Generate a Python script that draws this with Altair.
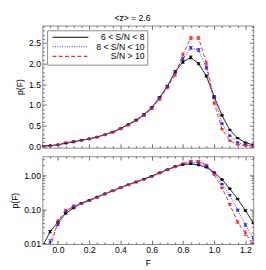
import altair as alt
import pandas as pd

FONT = "Liberation Sans"

F = [-0.10, -0.05, 0.00, 0.05, 0.10, 0.15, 0.20, 0.25, 0.30, 0.35, 0.40, 0.45, 0.50, 0.55,
     0.60, 0.65, 0.70, 0.75, 0.80, 0.85, 0.90, 0.95, 1.00, 1.05, 1.10, 1.15, 1.20, 1.25]

series_names = ["6 < S/N < 8", "8 < S/N < 10", "S/N > 10"]
series_colors = ["#000000", "#2a2aff", "#ff2a2a"]
series_dash = [[1, 0], [1, 1.5], [4, 2.5]]

p_black = [0.008, 0.022, 0.042, 0.076, 0.108, 0.152, 0.185, 0.23, 0.285, 0.35, 0.43, 0.53, 0.64, 0.77,
           0.94, 1.18, 1.45, 1.80, 2.04, 2.15, 2.00, 1.70, 1.20, 0.75, 0.40, 0.20, 0.092, 0.040]
p_blue = [0.006, 0.011, 0.036, 0.085, 0.125, 0.150, 0.180, 0.225, 0.28, 0.345, 0.43, 0.52, 0.63, 0.76,
          0.93, 1.17, 1.45, 1.80, 2.12, 2.38, 2.33, 1.90, 1.18, 0.55, 0.26, 0.095, 0.035, 0.014]
p_red = [0.004, 0.007, 0.045, 0.093, 0.115, 0.145, 0.178, 0.22, 0.275, 0.34, 0.42, 0.51, 0.62, 0.74,
         0.91, 1.14, 1.42, 1.73, 2.22, 2.62, 2.62, 2.02, 1.05, 0.42, 0.14, 0.042, 0.020, 0.009]

# relative errors
e_black = [0.1, 0.08, 0.05, 0.04, 0.03, 0.03, 0.02, 0.02, 0.02, 0.02, 0.02, 0.015, 0.015, 0.015,
           0.015, 0.015, 0.015, 0.015, 0.015, 0.015, 0.015, 0.015, 0.02, 0.02, 0.03, 0.04, 0.05, 0.06]
e_blue = [0.2, 0.15, 0.08, 0.06, 0.05, 0.04, 0.03, 0.03, 0.03, 0.025, 0.02, 0.02, 0.02, 0.02,
          0.02, 0.02, 0.02, 0.02, 0.015, 0.015, 0.015, 0.02, 0.02, 0.03, 0.05, 0.07, 0.1, 0.15]
e_red = [0.25, 0.2, 0.1, 0.07, 0.06, 0.05, 0.04, 0.04, 0.035, 0.03, 0.03, 0.025, 0.025, 0.025,
         0.025, 0.02, 0.02, 0.02, 0.015, 0.015, 0.015, 0.02, 0.025, 0.04, 0.06, 0.1, 0.15, 0.2]

x_major = [0.0, 0.2, 0.4, 0.6, 0.8, 1.0, 1.2]
x_minor = [-0.05, 0.05, 0.1, 0.15, 0.25, 0.3, 0.35, 0.45, 0.5, 0.55, 0.65, 0.7, 0.75,
           0.85, 0.9, 0.95, 1.05, 1.1, 1.15, 1.25]
ytop_major = [0.0, 0.5, 1.0, 1.5, 2.0, 2.5]
ytop_minor = [0.1, 0.2, 0.3, 0.4, 0.6, 0.7, 0.8, 0.9, 1.1, 1.2, 1.3, 1.4, 1.6, 1.7, 1.8, 1.9,
              2.1, 2.2, 2.3, 2.4, 2.6, 2.7, 2.8, 2.9]
ybot_major = [0.01, 0.1, 1.0]
ybot_minor = [0.02, 0.03, 0.04, 0.05, 0.06, 0.07, 0.08, 0.09,
              0.2, 0.3, 0.4, 0.5, 0.6, 0.7, 0.8, 0.9, 2.0, 3.0]

rows = []
for name, ps, es in zip(series_names, [p_black, p_blue, p_red], [e_black, e_blue, e_red]):
    for f, p, e in zip(F, ps, es):
        rows.append({"F": f, "p": p, "lo": p * (1 - e), "hi": p * (1 + e), "series": name})
df = pd.DataFrame(rows)

xscale = alt.Scale(domain=[-0.1, 1.25], nice=False, zero=False)
ytop_scale = alt.Scale(domain=[-0.03, 2.92], nice=False, zero=False)
ybot_scale = alt.Scale(type="log", domain=[0.0095, 3.6], nice=False)

W = 221


def ax(orient, values, size, labels=False, fmt=None, title=None, label_pad=2):
    kw = dict(orient=orient, values=values, tickSize=size, offset=-size, domain=False,
              grid=False, labels=labels, title=title, labelPadding=label_pad)
    if fmt:
        kw["format"] = fmt
    return alt.Axis(**kw)


def panel(yscale, ymaj, ymin, yfmt, show_x_labels, height, legend):
    base = alt.Chart(df)
    color = alt.Color("series:N", scale=alt.Scale(domain=series_names, range=series_colors),
                      legend=legend)
    dash = alt.StrokeDash("series:N", scale=alt.Scale(domain=series_names, range=series_dash),
                          legend=legend)
    color_nl = alt.Color("series:N", scale=alt.Scale(domain=series_names, range=series_colors),
                         legend=None)
    xtitle = "F" if show_x_labels else None

    line = base.mark_line(strokeWidth=1, clip=True).encode(
        x=alt.X("F:Q", scale=xscale, axis=ax("bottom", x_major, 4, labels=show_x_labels,
                                            fmt=".1f", title=xtitle)),
        y=alt.Y("p:Q", scale=yscale, axis=ax("left", ymaj, 4, labels=True, fmt=yfmt,
                                            title="p(F)")),
        color=color, strokeDash=dash, detail="series:N",
    )
    pts = base.mark_point(filled=True, shape="square", size=6, opacity=1, clip=True).encode(
        x=alt.X("F:Q", scale=xscale, axis=ax("bottom", x_minor, 2)),
        y=alt.Y("p:Q", scale=yscale, axis=ax("left", ymin, 2)),
        color=color_nl,
    )
    rule = base.mark_rule(strokeWidth=1, clip=True).encode(
        x=alt.X("F:Q", scale=xscale, axis=ax("top", x_major, 4)),
        y=alt.Y("lo:Q", scale=yscale, axis=ax("right", ymaj, 4)),
        y2="hi:Q",
        color=color_nl,
    )
    tlo = base.mark_tick(orient="horizontal", size=4, thickness=1, clip=True).encode(
        x=alt.X("F:Q", scale=xscale, axis=ax("top", x_minor, 2)),
        y=alt.Y("lo:Q", scale=yscale, axis=ax("right", ymin, 2)),
        color=color_nl,
    )
    thi = base.mark_tick(orient="horizontal", size=4, thickness=1, clip=True).encode(
        x=alt.X("F:Q", scale=xscale, axis=None),
        y=alt.Y("hi:Q", scale=yscale, axis=None),
        color=color_nl,
    )
    return alt.layer(line, pts, rule, tlo, thi).resolve_axis(
        x="independent", y="independent").properties(width=W, height=height)


legend = alt.Legend(title=None, orient="top-left", offset=5, symbolType="stroke",
                    symbolSize=1400, symbolStrokeWidth=1.2, clipHeight=8.5,
                    labelAlign="right", labelOffset=58,
                    labelFont=FONT, labelFontSize=9, labelColor="#000",
                    strokeColor="#888", fillColor="white", padding=3, rowPadding=0,
                    symbolOffset=2)

top = panel(ytop_scale, ytop_major, ytop_minor, ".1f", False, 128, legend)
bot = panel(ybot_scale, ybot_major, ybot_minor, ".2f", True, 92, None)

chart = alt.vconcat(top, bot, spacing=3).resolve_legend(
    color="independent", strokeDash="independent"
).properties(
    title=alt.TitleParams("<z> = 2.6", font=FONT, fontSize=9, fontWeight="normal",
                          anchor="middle", offset=2, color="#000"),
    padding={"left": 2, "top": 0, "right": 4, "bottom": 0},
).configure_view(stroke="#888", strokeWidth=1).configure_axis(
    labelFont=FONT, labelFontSize=9, labelColor="#000", titleFont=FONT, titleFontSize=9,
    titleFontWeight="normal", titleColor="#000", tickColor="#666", tickWidth=1,
)

chart.save("out.html", embed_options={"renderer": "svg", "actions": False})
